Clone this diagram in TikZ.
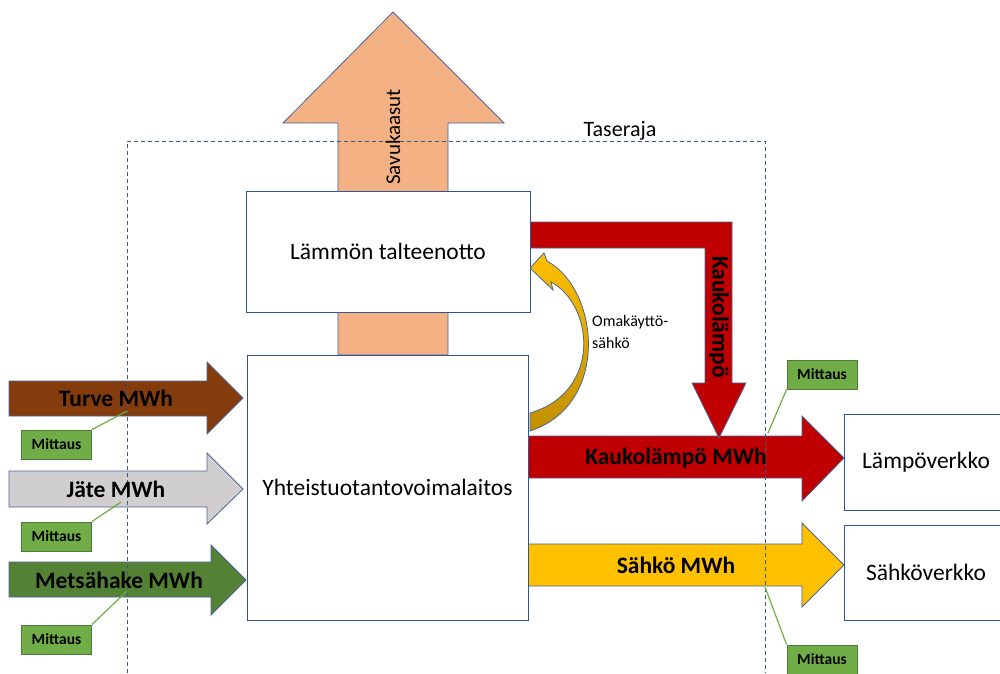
\documentclass[tikz,border=0pt]{standalone}
\usepackage{fontspec}
\setmainfont{Carlito}
\definecolor{edgeblue}{HTML}{4A6496}
\definecolor{boxblue}{HTML}{2F5597}
\definecolor{turve}{HTML}{843C0C}
\definecolor{jate}{HTML}{D0CECE}
\definecolor{metsa}{HTML}{548235}
\definecolor{kauko}{HTML}{C00000}
\definecolor{sahko}{HTML}{FFC000}
\definecolor{savu}{HTML}{F4B183}
\definecolor{mitt}{HTML}{70AD47}
\definecolor{mittedge}{HTML}{4E7A3A}
\definecolor{goldtop}{HTML}{FFC000}
\definecolor{goldbot}{HTML}{BF9000}
\definecolor{dashblue}{HTML}{3B5A8C}
\tikzset{
  blockarrow/.style={draw=edgeblue, line width=0.8pt, line join=miter},
  procbox/.style={draw=boxblue, fill=white, line width=0.8pt, inner sep=0pt},
  mittbox/.style={draw=mittedge, fill=mitt, line width=0.8pt, minimum width=70pt, minimum height=29pt, inner sep=0pt, font=\fontsize{15.5}{17}\selectfont\bfseries},
  mittline/.style={draw=mitt, line width=1.2pt},
  boundary/.style={draw=dashblue, line width=0.8pt, dash pattern=on 4pt off 3pt},
  arrowlabel/.style={font=\fontsize{23.5}{26}\selectfont\bfseries, inner sep=0pt},
  boxlabel/.style={font=\fontsize{23.5}{26}\selectfont, inner sep=0pt},
}
\begin{document}
\begin{tikzpicture}[x=1pt,y=-1pt]
\useasboundingbox (0,0) rectangle (1000,673);
% Savukaasut arrow
\draw[blockarrow, fill=savu] (338,355) -- (338,123) -- (283,123) -- (393,12) -- (504,123) -- (448,123) -- (448,355) -- cycle;
% Input arrows
\draw[blockarrow, fill=turve] (9,381) -- (207,381) -- (207,362) -- (243,398) -- (207,434) -- (207,416) -- (9,416) -- cycle;
\draw[blockarrow, fill=jate] (9,471) -- (207,471) -- (207,453) -- (243,489) -- (207,524) -- (207,507) -- (9,507) -- cycle;
\draw[blockarrow, fill=metsa] (9,562) -- (211,562) -- (211,545) -- (246,580) -- (211,615) -- (211,597) -- (9,597) -- cycle;
% Output arrows
\draw[blockarrow, fill=kauko] (528,436) -- (802,436) -- (802,416) -- (844,458) -- (802,501) -- (802,478) -- (528,478) -- cycle;
\draw[blockarrow, fill=sahko] (528,544) -- (802,544) -- (802,523) -- (844,565) -- (802,607) -- (802,586) -- (528,586) -- cycle;
% Kaukolampo L arrow
\draw[blockarrow, fill=kauko] (530,222) -- (732,222) -- (732,383) -- (746,383) -- (719,438) -- (692,383) -- (705,383) -- (705,248) -- (530,248) -- cycle;
% Omakayttosahko curved arrow
\path[blockarrow, top color=goldtop, bottom color=goldbot]
  (530,268) -- (544,253) -- (547,261)
  .. controls (600,290) and (610,405) .. (530,431)
  -- (530,413)
  .. controls (602,392) and (594,305) .. (551,282)
  -- (553,290) -- cycle;
% Boundary
\draw[boundary] (127,673) -- (127,141) -- (765,141) -- (765,673);
\node[font=\fontsize{22}{24}\selectfont, anchor=base, inner sep=0pt] (tase) at (620,136) {Taseraja};
% Boxes
\node[procbox, minimum width=284pt, minimum height=121pt, boxlabel] (lto) at (388,251.5) {Lämmön talteenotto};
\node[procbox, minimum width=281pt, minimum height=265pt, boxlabel] (chp) at (387.5,487.5) {Yhteistuotantovoimalaitos};
\node[procbox, minimum width=170pt, minimum height=96pt, anchor=west] (lampo) at (844,462) {};
\node[boxlabel] (lampotxt) at (926,462) {Lämpöverkko};
\node[procbox, minimum width=170pt, minimum height=95pt, anchor=west] (sahkov) at (844,572.5) {};
\node[boxlabel] (sahkotxt) at (926,572.5) {Sähköverkko};
% Arrow labels
\node[font=\fontsize{21}{22}\selectfont, rotate=90, inner sep=0pt] (savutxt) at (393,137) {Savukaasut};
\node[arrowlabel, rotate=-90] (kaukotxt) at (719,317) {Kaukolämpö};
\node[arrowlabel] (turvetxt) at (116,398) {Turve MWh};
\node[arrowlabel] (jatetxt) at (116,489) {Jäte MWh};
\node[arrowlabel] (metsatxt) at (119,580) {Metsähake MWh};
\node[arrowlabel] (kaukomwh) at (676,458) {Kaukolämpö MWh};
\node[arrowlabel] (sahkomwh) at (676,565) {Sähkö MWh};
\node[font=\fontsize{16}{22.5}\selectfont, align=left, anchor=north west, inner sep=0pt] (oma) at (592,315) {Omakäyttö-\\sähkö};
% Mittaus boxes
\node[mittbox] (m1) at (56.5,444.5) {Mittaus};
\node[mittbox] (m2) at (56.5,536.5) {Mittaus};
\node[mittbox] (m3) at (56.5,639.5) {Mittaus};
\node[mittbox] (m4) at (822,374.5) {Mittaus};
\node[mittbox] (m5) at (822,659.5) {Mittaus};
\coordinate (p1) at (127,411);
\coordinate (p2) at (121,502);
\coordinate (p3) at (127,591);
\coordinate (p4) at (768,433);
\coordinate (p5) at (765,587);
\draw[mittline] (m1.north east) -- (p1);
\draw[mittline] (m2.north east) -- (p2);
\draw[mittline] (m3.north east) -- (p3);
\draw[mittline] (m4.south west) -- (p4);
\draw[mittline] (m5.north west) -- (p5);
\end{tikzpicture}
\end{document}
